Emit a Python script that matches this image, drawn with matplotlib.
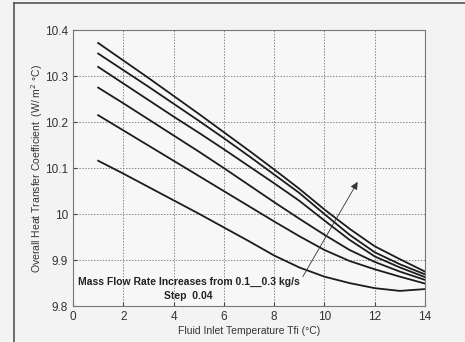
import matplotlib
matplotlib.use("Agg")
import matplotlib.pyplot as plt
from matplotlib.lines import Line2D

# Fluid inlet temperature (°C)
temp = [1, 2, 3, 4, 5, 6, 7, 8, 9, 10, 11, 12, 13, 14]

# Overall heat transfer coefficient, one list per mass flow rate (0.3 ... 0.1 kg/s)
u_030 = [10.372, 10.334, 10.296, 10.257, 10.218, 10.178, 10.138, 10.097, 10.055, 10.010, 9.968, 9.930, 9.902, 9.875]
u_026 = [10.349, 10.313, 10.277, 10.240, 10.203, 10.165, 10.126, 10.086, 10.046, 10.000, 9.955, 9.917, 9.891, 9.869]
u_022 = [10.320, 10.284, 10.248, 10.212, 10.177, 10.141, 10.104, 10.067, 10.029, 9.986, 9.944, 9.908, 9.884, 9.863]
u_018 = [10.275, 10.241, 10.206, 10.171, 10.136, 10.100, 10.063, 10.026, 9.990, 9.955, 9.922, 9.896, 9.875, 9.857]
u_014 = [10.215, 10.182, 10.149, 10.116, 10.083, 10.050, 10.017, 9.984, 9.952, 9.922, 9.898, 9.880, 9.864, 9.849]
u_010 = [10.116, 10.088, 10.059, 10.030, 10.001, 9.971, 9.941, 9.910, 9.884, 9.864, 9.850, 9.839, 9.833, 9.837]

xticks = [0, 2, 4, 6, 8, 10, 12, 14]
yticks = [9.8, 9.9, 10.0, 10.1, 10.2, 10.3, 10.4]
ytick_labels = ["9.8", "9.9", "10", "10.1", "10.2", "10.3", "10.4"]

plt.rcParams["font.family"] = ["Liberation Sans", "DejaVu Sans"]

fig = plt.figure(figsize=(4.65, 3.42), dpi=100, facecolor="#f3f3f3")
ax = fig.add_axes([0.157, 0.105, 0.757, 0.807], facecolor="#f7f7f7")

# outer frame (left + top edge of the scanned figure box)
fig.add_artist(Line2D([0.030, 0.030], [0.0, 0.991], color="#555555", lw=1.2))
fig.add_artist(Line2D([0.030, 1.0], [0.991, 0.991], color="#555555", lw=1.2))

for series in [u_030, u_026, u_022, u_018, u_014, u_010]:
    ax.plot(temp, series, color="#1c1c1c", lw=1.3)

ax.set_xlim(0, 14)
ax.set_ylim(9.8, 10.4)
ax.set_xticks(xticks)
ax.set_yticks(yticks)
ax.set_yticklabels(ytick_labels)
ax.tick_params(direction="in", length=3, labelsize=8.5, colors="#444444", labelcolor="#333333")
ax.grid(True, linestyle=(0, (1.5, 1.5)), color="#888888", lw=0.7)
for s in ax.spines.values():
    s.set_color("#777777")
    s.set_linewidth(0.8)

ax.set_xlabel("Fluid Inlet Temperature Tfi (\u00b0C)", fontsize=7.5, color="#333333", labelpad=2)
ax.set_ylabel("Overall Heat Transfer Coefficient  (W/ m$^2$ \u00b0C)", fontsize=7.5,
              color="#333333", labelpad=0)

ax.text(4.6, 9.852, "Mass Flow Rate Increases from 0.1__0.3 kg/s", fontsize=7.5,
        fontweight="bold", ha="center", va="center", color="#222222")
ax.text(4.6, 9.822, "Step  0.04", fontsize=7.5, fontweight="bold",
        ha="center", va="center", color="#222222")

ax.annotate("", xy=(11.32, 10.07), xytext=(9.14, 9.864),
            arrowprops=dict(arrowstyle="-|>", color="#333333", lw=0.6,
                            mutation_scale=11, shrinkA=0, shrinkB=0))

fig.savefig("out.png", dpi=100, facecolor=fig.get_facecolor())
